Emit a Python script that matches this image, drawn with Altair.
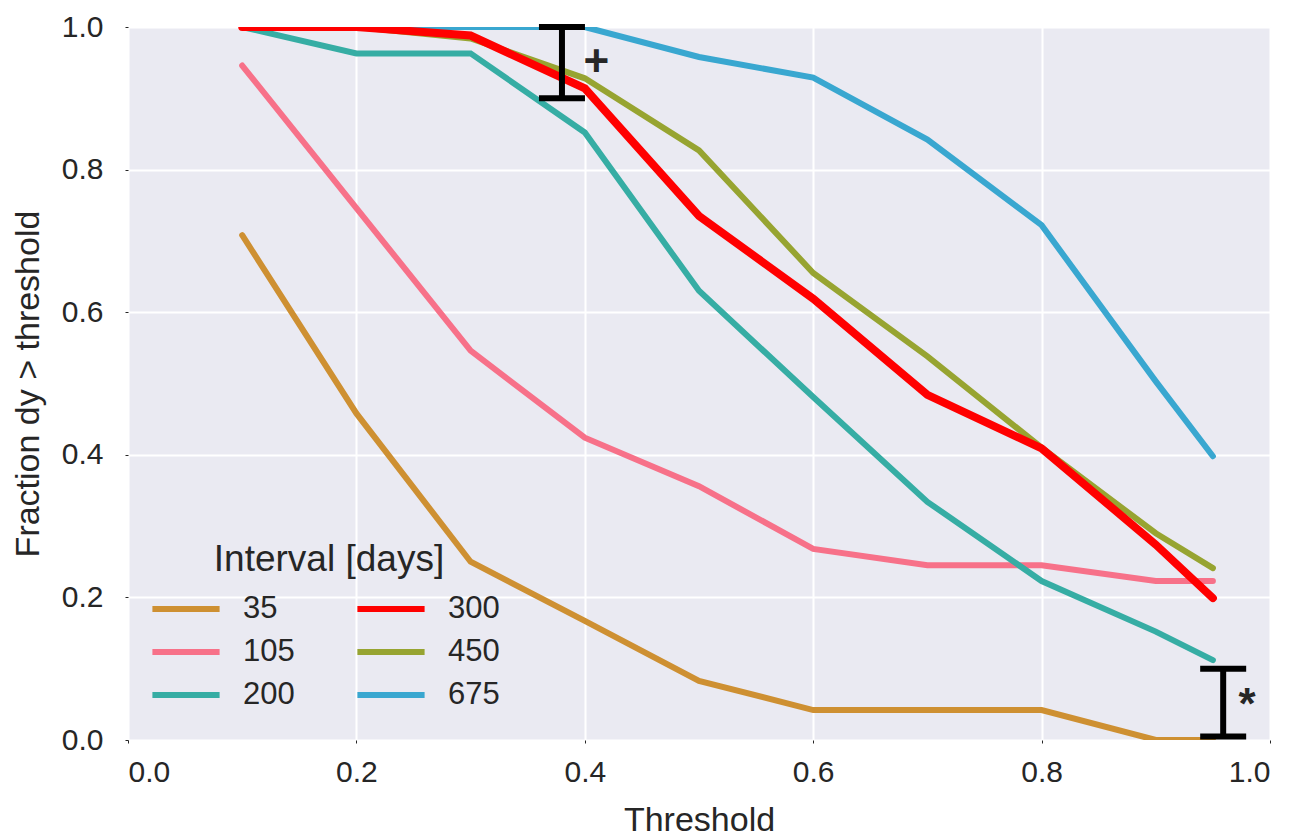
import altair as alt
import pandas as pd

thresholds = [0.1, 0.2, 0.3, 0.4, 0.5, 0.6, 0.7, 0.8, 0.9, 0.95]
v35 = [0.708, 0.458, 0.25, 0.167, 0.083, 0.042, 0.042, 0.042, 0.0, 0.0]
v105 = [0.946, 0.746, 0.546, 0.424, 0.356, 0.268, 0.245, 0.245, 0.223, 0.223]
v200 = [1.0, 0.963, 0.963, 0.852, 0.630, 0.481, 0.334, 0.223, 0.152, 0.112]
v300 = [1.0, 1.0, 0.988, 0.914, 0.735, 0.619, 0.484, 0.409, 0.274, 0.199]
v450 = [1.0, 1.0, 0.984, 0.928, 0.827, 0.655, 0.538, 0.410, 0.290, 0.241]
v675 = [1.0, 1.0, 1.0, 1.0, 0.958, 0.929, 0.842, 0.722, 0.503, 0.398]

series_names = ["35", "105", "200", "300", "450", "675"]
series_values = [v35, v105, v200, v300, v450, v675]
series_colors = ["#ce9032", "#f77189", "#36ada4", "#ff0000", "#97a431", "#39a7d0"]

err_x = [0.38, 0.959]
err_lo = [0.9, 0.005]
err_hi = [1.0, 0.1]
ann_x = [0.41, 0.98]
ann_y = [0.95, 0.047]
ann_text = ["+", "*"]

rows = []
for name, vals in zip(series_names, series_values):
    for t, v in zip(thresholds, vals):
        rows.append({"threshold": t, "fraction": v, "interval": name})
df = pd.DataFrame(rows)
df_err = pd.DataFrame({"x": err_x, "lo": err_lo, "hi": err_hi})
df_ann = pd.DataFrame({"x": ann_x, "y": ann_y, "t": ann_text})

FONT = "Liberation Sans"
TXT = "#262626"

xscale = alt.Scale(domain=[0, 1], nice=False, zero=False)
yscale = alt.Scale(domain=[0, 1], nice=False, zero=False)
xaxis = alt.Axis(title="Threshold", values=[0, 0.2, 0.4, 0.6, 0.8, 1.0], format=".1f")
yaxis = alt.Axis(title="Fraction dy > threshold", values=[0, 0.2, 0.4, 0.6, 0.8, 1.0], format=".1f")

color = alt.Color(
    "interval:N",
    scale=alt.Scale(domain=series_names, range=series_colors),
    legend=alt.Legend(title="Interval [days]"),
)

base = alt.Chart(df).encode(
    x=alt.X("threshold:Q", scale=xscale, axis=xaxis),
    y=alt.Y("fraction:Q", scale=yscale, axis=yaxis),
    color=color,
)

others = base.transform_filter(alt.datum.interval != "300").mark_line(
    clip=True, strokeCap="round", strokeWidth=6
)
red = base.transform_filter(alt.datum.interval == "300").mark_line(
    clip=True, strokeCap="round", strokeWidth=8
)

err_rule = alt.Chart(df_err).mark_rule(color="black", strokeWidth=6).encode(
    x=alt.X("x:Q", scale=xscale), y=alt.Y("lo:Q", scale=yscale), y2="hi:Q"
)
err_lo_tick = alt.Chart(df_err).mark_tick(
    color="black", opacity=1, orient="horizontal", size=46, thickness=6
).encode(x=alt.X("x:Q", scale=xscale), y=alt.Y("lo:Q", scale=yscale))
err_hi_tick = alt.Chart(df_err).mark_tick(
    color="black", opacity=1, orient="horizontal", size=46, thickness=6
).encode(x=alt.X("x:Q", scale=xscale), y=alt.Y("hi:Q", scale=yscale))
ann = alt.Chart(df_ann).mark_text(
    font=FONT, fontSize=44, fontWeight="bold", color=TXT, align="center", baseline="middle"
).encode(x=alt.X("x:Q", scale=xscale), y=alt.Y("y:Q", scale=yscale), text="t:N")

chart = (
    alt.layer(others, red, err_rule, err_lo_tick, err_hi_tick, ann)
    .properties(
        width=1142,
        height=713,
        padding={"left": 128, "top": 27, "right": 34, "bottom": 96},
        autosize=alt.AutoSizeParams(type="none"),
        background="white",
    )
    .configure_view(fill="#EAEAF2", stroke="transparent")
    .configure_axis(
        domain=False,
        grid=True,
        gridColor="white",
        gridWidth=2,
        tickSize=3,
        tickColor=TXT,
        labelFont=FONT,
        labelFontSize=30,
        labelColor=TXT,
        titleFont=FONT,
        titleFontSize=34,
        titleFontWeight="normal",
        titleColor=TXT,
    )
    .configure_axisX(labelPadding=14, titlePadding=16)
    .configure_axisY(labelPadding=22, titlePadding=16)
    .configure_legend(
        orient="none",
        legendX=31,
        legendY=515,
        direction="vertical",
        columns=2,
        symbolType="M-1.4,0H1.4",
        symbolSize=2304,
        symbolStrokeWidth=6,
        labelFont=FONT,
        labelFontSize=31,
        labelColor=TXT,
        labelOffset=30,
        titleFont=FONT,
        titleFontSize=37,
        titleFontWeight="normal",
        titleColor=TXT,
        titleAnchor="middle",
        titleLimit=600,
        labelLimit=300,
        rowPadding=1,
        columnPadding=50,
        titlePadding=3,
        padding=0,
    )
)

chart.save("out.html", embed_options={"renderer": "svg", "actions": False})
